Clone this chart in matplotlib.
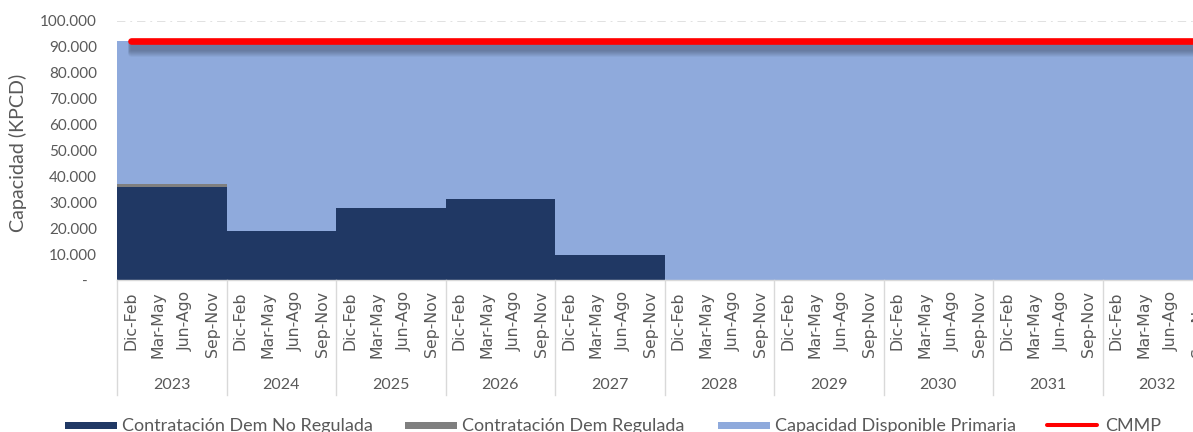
import numpy as np
import matplotlib
matplotlib.use("Agg")
import matplotlib.pyplot as plt
import matplotlib.patheffects as pe
from matplotlib.transforms import blended_transform_factory, ScaledTranslation
from matplotlib.patches import Rectangle
from matplotlib.lines import Line2D

# ---------------- data ----------------
years = ['2023', '2024', '2025', '2026', '2027', '2028', '2029', '2030', '2031', '2032']
quarters = ['Dic-Feb', 'Mar-May', 'Jun-Ago', 'Sep-Nov']

dem_no_regulada = [36000, 36000, 36000, 36000,
                   18900, 18900, 18900, 18900,
                   27900, 27900, 27900, 27900,
                   31100, 31100, 31100, 31100,
                   9800, 9800, 9800, 9800,
                   0, 0, 0, 0,
                   0, 0, 0, 0,
                   0, 0, 0, 0,
                   0, 0, 0, 0,
                   0, 0, 0, 0]
dem_regulada = [1000, 1000, 1000, 1000,
                0, 0, 0, 0,
                0, 0, 0, 0,
                0, 0, 0, 0,
                0, 0, 0, 0,
                0, 0, 0, 0,
                0, 0, 0, 0,
                0, 0, 0, 0,
                0, 0, 0, 0,
                0, 0, 0, 0]
cap_disponible = [55000, 55000, 55000, 55000,
                  73100, 73100, 73100, 73100,
                  64100, 64100, 64100, 64100,
                  60900, 60900, 60900, 60900,
                  82200, 82200, 82200, 82200,
                  92000, 92000, 92000, 92000,
                  92000, 92000, 92000, 92000,
                  92000, 92000, 92000, 92000,
                  92000, 92000, 92000, 92000,
                  92000, 92000, 92000, 92000]
cmmp = [92000] * 40

series_labels = ['Contratación Dem No Regulada', 'Contratación Dem Regulada',
                 'Capacidad Disponible Primaria', 'CMMP']
yticks = [0, 10000, 20000, 30000, 40000, 50000, 60000, 70000, 80000, 90000, 100000]
ytick_labels = ['-', '10.000', '20.000', '30.000', '40.000', '50.000',
                '60.000', '70.000', '80.000', '90.000', '100.000']

# ---------------- style ----------------
FONT = ['Lato', 'DejaVu Sans']
plt.rcParams['font.family'] = FONT
TXT = '#595959'
C_NAVY = '#203864'
C_GRAY = '#7f7f7f'
C_LIGHT = '#8faadc'
C_RED = '#ff0000'
C_SEP = '#d9d9d9'

W, H = 1193, 432
fig = plt.figure(figsize=(W / 100, H / 100), dpi=100)
ax_left, ax_right, ax_top, ax_bot = 117, 1212, 20.7, 280
ax = fig.add_axes([ax_left / W, 1 - ax_bot / H, (ax_right - ax_left) / W, (ax_bot - ax_top) / H])

n = len(dem_no_regulada)
x = np.arange(n)
edges = np.arange(n + 1) - 0.5

a = np.array(dem_no_regulada, float)
b = np.array(dem_regulada, float)
c = np.array(cap_disponible, float)

ax.stairs(a, edges, baseline=0, fill=True, color=C_NAVY, lw=0, zorder=2)
ax.stairs(a + b, edges, baseline=a, fill=True, color=C_GRAY, lw=0, zorder=2)
ax.stairs(a + b + c, edges, baseline=a + b, fill=True, color=C_LIGHT, lw=0, zorder=2)

# CMMP line with soft shadow
shadow = [pe.SimpleLineShadow(offset=(0.3, -k * 0.72), shadow_color='black',
                              alpha=0.045, linewidth=4.8) for k in range(1, 13)]
ax.plot(x, cmmp, color=C_RED, lw=4.8, solid_capstyle='round', zorder=4,
        path_effects=shadow + [pe.Normal()], clip_on=False)

ax.set_xlim(-0.5, n - 0.5)
ax.set_ylim(0, 100000)

# grid
ax.set_axisbelow(True)
ax.yaxis.grid(True, color=C_SEP, lw=1.1, linestyle=(0, (5.5, 3.2, 1.2, 3.2)))
ax.xaxis.grid(False)

for s in ['top', 'right', 'left']:
    ax.spines[s].set_visible(False)
ax.spines['bottom'].set_color(C_SEP)
ax.spines['bottom'].set_linewidth(1)

# y axis
ax.set_yticks(yticks)
ax.set_yticklabels(ytick_labels)
ax.tick_params(axis='y', length=0, pad=14.4, labelsize=11, labelcolor=TXT)
zero_lab = ax.get_yticklabels()[0]
zero_lab.set_transform(zero_lab.get_transform() + ScaledTranslation(-9 / 100, 0, fig.dpi_scale_trans))

ax.set_ylabel('Capacidad (KPCD)', fontsize=14.2, color=TXT, va='center')
ax.yaxis.set_label_coords((18 - ax_left) / (ax_right - ax_left), 0.49)

# x axis: quarter labels
ax.set_xticks(x)
ax.set_xticklabels(quarters * len(years), rotation=90, family=['DejaVu Sans'])
ax.tick_params(axis='x', length=0, pad=8, labelsize=11.3, labelcolor=TXT)

# year labels and separators
bt = blended_transform_factory(ax.transData, ax.transAxes)
hax = ax_bot - ax_top
y_year = (ax_bot - 385) / hax
y_sep = (ax_bot - 395) / hax
for i, yr in enumerate(years):
    ax.text(i * 4 + 1.5, y_year, yr, transform=bt, ha='center', va='center',
            fontsize=11.5, color=TXT, clip_on=False)
for i in range(len(years) + 1):
    ax.add_line(Line2D([i * 4 - 0.5, i * 4 - 0.5], [0, y_sep], transform=bt,
                       color=C_SEP, lw=1, clip_on=False))

# legend (manual, figure pixel coordinates)
def fx(px):
    return px / W

def fy(py):
    return 1 - py / H

leg_y = 425
patch_x = [65, 405, 718]
patch_c = [C_NAVY, C_GRAY, C_LIGHT]
text_x = [122, 462, 775, 1105]
for px, col in zip(patch_x, patch_c):
    fig.patches.append(Rectangle((fx(px), fy(leg_y + 3.5)), 52 / W, 7 / H,
                                 transform=fig.transFigure, color=col, lw=0))
fig.lines.append(Line2D([fx(1047), fx(1097)], [fy(leg_y), fy(leg_y)],
                        transform=fig.transFigure, color=C_RED, lw=2.9,
                        solid_capstyle='round'))
for tx, lab in zip(text_x, series_labels):
    fig.text(fx(tx), fy(431), lab, ha='left', va='baseline', fontsize=13, color=TXT)

fig.savefig('out.png', dpi=100)
